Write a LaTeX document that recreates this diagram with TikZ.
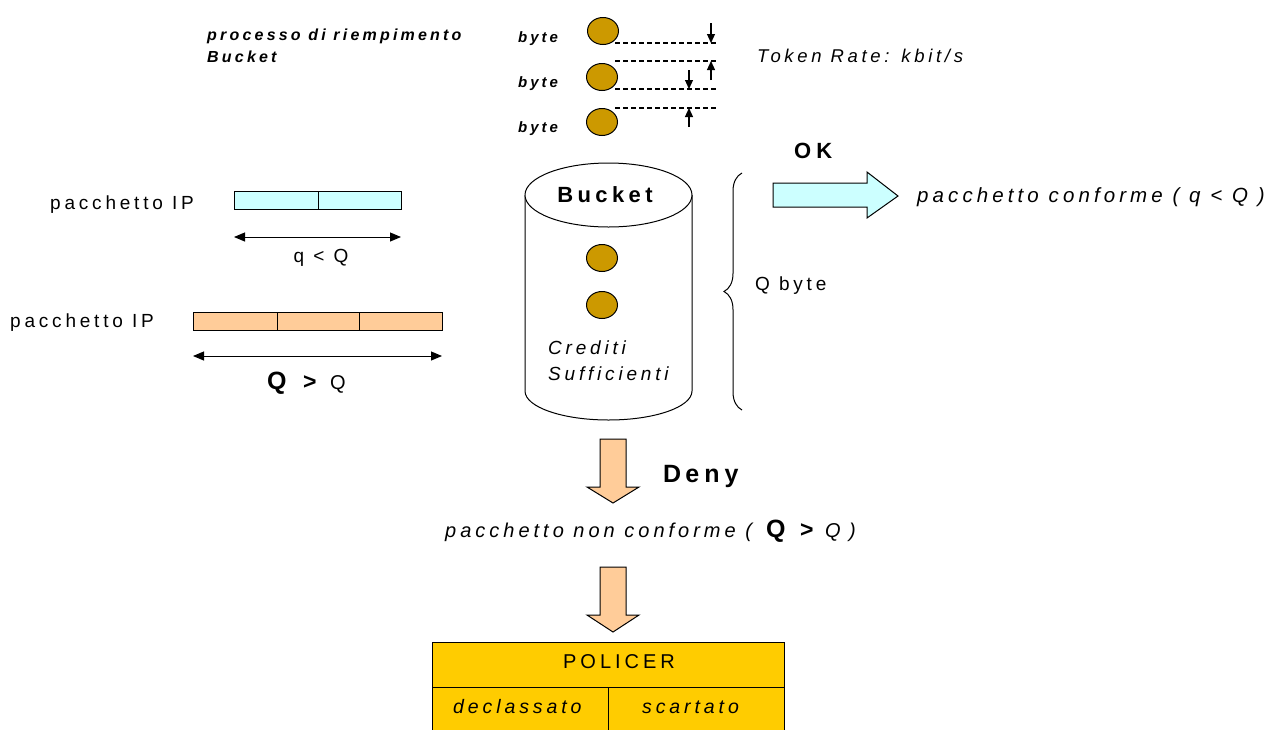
\documentclass[tikz,border=0pt]{standalone}
\usepackage{fontspec}
\setmainfont[LetterSpace=20]{Liberation Sans}
\usetikzlibrary{arrows.meta,shapes.geometric,decorations.pathreplacing}
\definecolor{cyanf}{HTML}{CCFFFF}
\definecolor{orangef}{HTML}{FFCC99}
\definecolor{coinc}{HTML}{CC9900}
\definecolor{polc}{HTML}{FFCC00}
\newcommand{\fs}[1]{\fontsize{#1}{#1}\selectfont}
\begin{document}
\begin{tikzpicture}[x=1pt,y=-1pt,
  lbl/.style={inner sep=0pt, anchor=base west},
  clbl/.style={inner sep=0pt, anchor=base},
  bigq/.style={lbl, font=\fs{25}\bfseries},
  gtsym/.style={lbl, font=\fs{23}\bfseries},
  smallq/.style={lbl, font=\fs{20}},
  coin/.style={ellipse, draw=black, line width=1pt, fill=coinc, minimum width=31pt, minimum height=27pt, inner sep=0pt},
  tip/.style={-{Triangle[length=9pt,width=8pt]}, line width=1.2pt},
  dim/.style={{Triangle[length=11pt,width=9pt]}-{Triangle[length=11pt,width=9pt]}, line width=1pt},
  edge/.style={draw=black, line width=1pt},
  tok/.style={dash pattern=on 5pt off 3pt, line width=1.1pt}]
\useasboundingbox (0,0) rectangle (1278,729);

% top: filling process
\node[lbl, font=\fs{16}\bfseries\itshape] (proc1) at (207,40) {processo di riempimento};
\node[lbl, font=\fs{16}\bfseries\itshape] (proc2) at (207,62) {Bucket};
\node[lbl, font=\fs{15}\bfseries\itshape] (b1) at (518,42) {byte};
\node[lbl, font=\fs{15}\bfseries\itshape] (b2) at (518,87) {byte};
\node[lbl, font=\fs{15}\bfseries\itshape] (b3) at (518,132) {byte};
\node[coin] (c1) at (603,31) {};
\node[coin] (c2) at (602,77) {};
\node[coin] (c3) at (602,122) {};
\draw[tok] (615,43) -- (718,43);
\draw[tok] (615,61) -- (718,61);
\draw[tok] (615,89) -- (718,89);
\draw[tok] (615,108) -- (718,108);
\coordinate (a1s) at (711,23); \coordinate (a1e) at (711,43);
\coordinate (a2s) at (711,80); \coordinate (a2e) at (711,61);
\coordinate (a3s) at (689,70); \coordinate (a3e) at (689,89);
\coordinate (a4s) at (689,127); \coordinate (a4e) at (689,108);
\draw[tip] (a1s) -- (a1e);
\draw[tip] (a2s) -- (a2e);
\draw[tip] (a3s) -- (a3e);
\draw[tip] (a4s) -- (a4e);
\node[lbl, font=\fs{18.5}\itshape] (rate) at (757,62) {Token Rate: kbit/s};

% packets
\node[lbl, font=\fs{19}] (ip1) at (50,209) {pacchetto IP};
\draw[edge, fill=cyanf] (234,191) rectangle (401,209);
\draw[edge] (318,191) -- (318,209);
\coordinate (d1l) at (234,237); \coordinate (d1r) at (401,237);
\draw[dim] (d1l) -- (d1r);
\node[clbl, font=\fs{19}] (qlt) at (321,262) {q < Q};

\node[lbl, font=\fs{19}] (ip2) at (10,327) {pacchetto IP};
\draw[edge, fill=orangef] (193,312) rectangle (442,330);
\draw[edge] (277,312) -- (277,330);
\draw[edge] (359,312) -- (359,330);
\coordinate (d2l) at (193,356); \coordinate (d2r) at (442,356);
\draw[dim] (d2l) -- (d2r);
\node[bigq] (qg1) at (267,389) {Q};
\node[gtsym] (qg2) at (303,389) {>};
\node[smallq] (qg3) at (330,389) {Q};

% bucket cylinder
\draw[edge, fill=white] (525,195) -- (525,391) arc[start angle=180, end angle=0, x radius=83.5, y radius=29] -- (692,195);
\draw[edge, fill=white] (608.5,195) ellipse [x radius=83.5, y radius=32];
\node[clbl, font=\fs{22}\bfseries] (bucket) at (605,202) {Bucket};
\node[coin] (c4) at (602,258) {};
\node[coin] (c5) at (602,305) {};
\node[lbl, font=\fs{19}\itshape] (cred) at (548,354) {Crediti};
\node[lbl, font=\fs{19}\itshape] (suff) at (548,380) {Sufficienti};

% brace
\draw[line width=1pt, decorate, decoration={brace, amplitude=18pt}] (742,410) -- (742,173);
\node[lbl, font=\fs{19}] (qbyte) at (755,290) {Q byte};

% OK arrow
\node[lbl, font=\fs{22}\bfseries] (ok) at (794,158) {O\hspace{5pt}K};
\draw[edge, fill=cyanf] (773,183) -- (867,183) -- (867,172) -- (898,196) -- (867,218) -- (867,207) -- (773,207) -- cycle;
\node[lbl, font=\fs{20.5}\itshape] (conf) at (917,202) {pacchetto conforme ( q < Q )};

% Deny arrow
\draw[edge, fill=orangef] (600,439) -- (626,439) -- (626,487) -- (639,487) -- (613,503) -- (587,487) -- (600,487) -- cycle;
\node[lbl, font=\fs{25}\bfseries] (deny) at (663,482) {D\,eny};
\node[lbl, font=\fs{20}\itshape] (nconf) at (445,537) {pacchetto non conforme (};
\node[bigq] (nq1) at (766,537) {Q};
\node[gtsym] (nq2) at (800,537) {>};
\node[smallq, font=\fs{20}\itshape] (nq3) at (825,537) {Q};
\node[lbl, font=\fs{20}\itshape] (nq4) at (849,537) {)};

% second arrow
\draw[edge, fill=orangef] (600,567) -- (626,567) -- (626,615) -- (639,615) -- (613,632) -- (587,615) -- (600,615) -- cycle;

% policer
\draw[edge, fill=polc] (432,642) rectangle (784,740);
\draw[edge] (432,687) -- (784,687);
\draw[edge] (608,687) -- (608,740);
\node[clbl, font=\fs{20}] (pol) at (619,668) {POLICER};
\node[lbl, font=\fs{19.5}\itshape] (decl) at (453,713) {declassato};
\node[lbl, font=\fs{19.5}\itshape] (scart) at (642,713) {scartato};
\end{tikzpicture}
\end{document}
